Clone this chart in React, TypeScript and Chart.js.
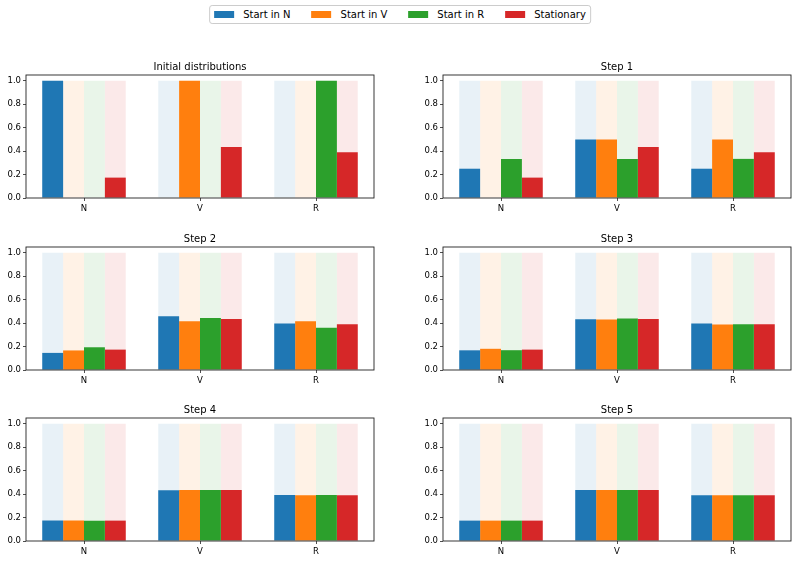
import React, { useEffect, useRef } from "react";
import { Chart, registerables } from "chart.js";

Chart.register(...registerables);

// ---------- data ----------
const categories = ["N", "V", "R"];
const seriesNames = ["Start in N", "Start in V", "Start in R", "Stationary"];
const panelTitles = ["Initial distributions", "Step 1", "Step 2", "Step 3", "Step 4", "Step 5"];

// per panel (step), values for categories N, V, R
const startInN = [
  [1, 0, 0],
  [0.25, 0.5, 0.25],
  [0.146, 0.458, 0.396],
  [0.168, 0.434, 0.398],
  [0.175, 0.434, 0.392],
  [0.174, 0.435, 0.391],
];
const startInV = [
  [0, 1, 0],
  [0, 0.5, 0.5],
  [0.167, 0.417, 0.417],
  [0.181, 0.431, 0.389],
  [0.175, 0.435, 0.39],
  [0.174, 0.435, 0.391],
];
const startInR = [
  [0, 0, 1],
  [0.333, 0.333, 0.334],
  [0.194, 0.444, 0.361],
  [0.169, 0.44, 0.391],
  [0.173, 0.435, 0.392],
  [0.174, 0.435, 0.391],
];
const stationary = [0.174, 0.435, 0.391];
const backgroundLevel = [1, 1, 1];

const yTickValues = [0, 0.2, 0.4, 0.6, 0.8, 1.0];
const yTickLabels = ["0.0", "0.2", "0.4", "0.6", "0.8", "1.0"];

// ---------- style ----------
const FONT = "DejaVu Sans";
const colors = ["#1f77b4", "#ff7f0e", "#2ca02c", "#d62728"];
const fadedColors = [
  "rgba(31,119,180,0.1)",
  "rgba(255,127,14,0.1)",
  "rgba(44,160,44,0.1)",
  "rgba(214,39,40,0.1)",
];

const FRAME_H = 123;
const TITLE_H = 14;
const XAXIS_H = 18;
const rowTops = [75, 247, 418];
const cols = [
  { canvasLeft: 0, canvasWidth: 380, frameLeft: 26, frameRight: 374 },
  { canvasLeft: 400, canvasWidth: 400, frameLeft: 443, frameRight: 791 },
];

const framePlugin = {
  id: "frame",
  afterDraw(chart: any) {
    const { ctx, chartArea } = chart;
    const { left, top, right, bottom } = chartArea;
    ctx.save();
    ctx.strokeStyle = "#222";
    ctx.lineWidth = 0.9;
    ctx.strokeRect(left, top, right - left, bottom - top);
    ctx.restore();
  },
};

function Panel({ index }: { index: number }) {
  const ref = useRef<HTMLCanvasElement | null>(null);
  const row = Math.floor(index / 2);
  const col = cols[index % 2];
  const canvasTop = rowTops[row] - TITLE_H;
  const canvasHeight = TITLE_H + FRAME_H + XAXIS_H;

  useEffect(() => {
    if (!ref.current) return;
    const values = [startInN[index], startInV[index], startInR[index], stationary];
    const fg = values.map((v, i) => ({
      label: seriesNames[i],
      data: v,
      backgroundColor: colors[i],
      borderWidth: 0,
      stack: "s" + i,
      order: 0,
      categoryPercentage: 0.72,
      barPercentage: 1.0,
    }));
    const bg = values.map((_, i) => ({
      label: seriesNames[i] + " bg",
      data: backgroundLevel,
      backgroundColor: fadedColors[i],
      borderWidth: 0,
      stack: "s" + i,
      order: 1,
      categoryPercentage: 0.72,
      barPercentage: 1.0,
    }));
    const tickFont = { family: FONT, size: 8.5 };
    const chart = new Chart(ref.current, {
      type: "bar",
      data: { labels: categories, datasets: [...fg, ...bg] as any },
      options: {
        animation: false,
        responsive: false,
        maintainAspectRatio: false,
        layout: {
          padding: { left: 0, top: 0, bottom: 0, right: col.canvasLeft + col.canvasWidth - col.frameRight },
        },
        plugins: {
          legend: { display: false },
          tooltip: { enabled: false },
          title: {
            display: true,
            text: panelTitles[index],
            fullSize: false,
            color: "#000",
            font: { family: FONT, size: 10, weight: "normal" as any },
            padding: { top: 0, bottom: 2 },
          },
        },
        scales: {
          x: {
            type: "category",
            stacked: true,
            offset: true,
            grid: {
              display: true,
              offset: false,
              drawOnChartArea: false,
              drawTicks: true,
              tickLength: 3,
              color: "#222",
              lineWidth: 0.8,
            },
            border: { display: false },
            ticks: { font: tickFont, color: "#000", padding: 3, maxRotation: 0, autoSkip: false },
            afterFit: (s: any) => {
              s.height = XAXIS_H;
            },
          },
          y: {
            type: "linear",
            stacked: false,
            min: 0,
            max: 1.05,
            afterBuildTicks: (s: any) => {
              s.ticks = yTickValues.map((v) => ({ value: v }));
            },
            grid: {
              display: true,
              drawOnChartArea: false,
              drawTicks: true,
              tickLength: 3,
              color: "#222",
              lineWidth: 0.8,
            },
            border: { display: false },
            ticks: {
              font: tickFont,
              color: "#000",
              padding: 2,
              callback: (_v: any, i: number) => yTickLabels[i],
            },
            afterFit: (s: any) => {
              s.width = col.frameLeft - col.canvasLeft;
            },
          },
        },
      } as any,
      plugins: [framePlugin],
    });
    return () => chart.destroy();
  }, [index]);

  return (
    <canvas
      ref={ref}
      width={col.canvasWidth}
      height={canvasHeight}
      style={{
        position: "absolute",
        left: col.canvasLeft,
        top: canvasTop,
        width: col.canvasWidth,
        height: canvasHeight,
      }}
    />
  );
}

function Legend() {
  return (
    <div
      style={{
        position: "absolute",
        left: "50%",
        top: 5,
        transform: "translateX(-50%)",
        height: 19,
        boxSizing: "border-box",
        border: "1px solid #cccccc",
        borderRadius: 3,
        background: "rgba(255,255,255,0.8)",
        display: "flex",
        alignItems: "center",
        padding: "0 4px",
        gap: 21,
        fontFamily: FONT,
        fontSize: 10,
        color: "#000",
        whiteSpace: "nowrap",
      }}
    >
      {seriesNames.map((name, i) => (
        <div key={name} style={{ display: "flex", alignItems: "center", gap: 9 }}>
          <span style={{ display: "inline-block", width: 20, height: 7, background: colors[i] }} />
          <span>{name}</span>
        </div>
      ))}
    </div>
  );
}

export default function App() {
  return (
    <div
      style={{
        position: "absolute",
        left: 0,
        top: 0,
        width: 800,
        height: 561,
        background: "#fff",
        overflow: "hidden",
      }}
    >
      <Legend />
      {panelTitles.map((_, i) => (
        <Panel key={i} index={i} />
      ))}
    </div>
  );
}
